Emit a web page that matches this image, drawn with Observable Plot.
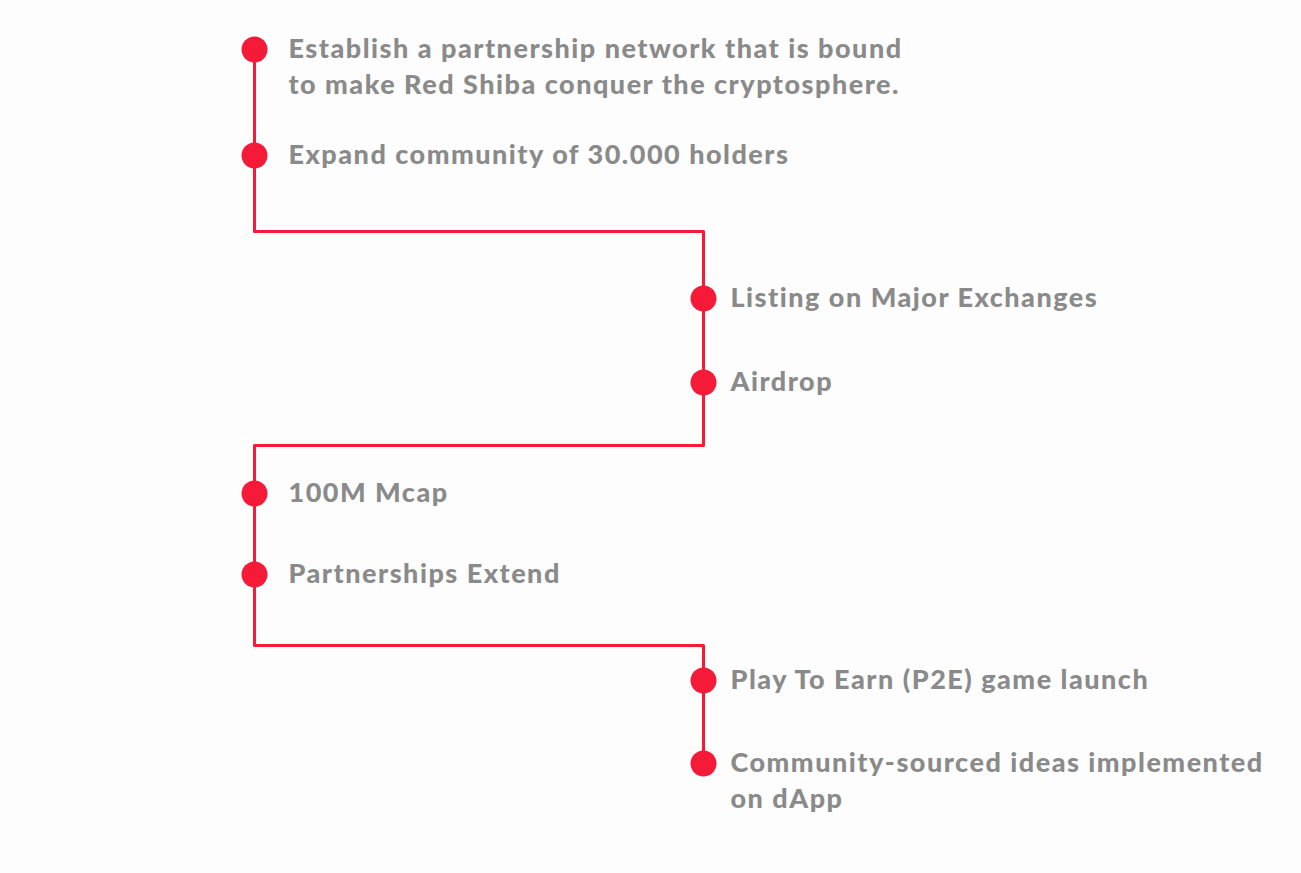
<!DOCTYPE html>
<html><head><meta charset="utf-8">
<script src="https://cdn.jsdelivr.net/npm/d3@7"></script>
<script src="https://cdn.jsdelivr.net/npm/@observablehq/plot@0.6"></script>
<style>body{margin:0;background:#fdfdfd} svg text{letter-spacing:1.5px}</style>
</head><body><div id="chart"></div>
<script>
// milestones: column (0 left, 1 right) and vertical position
const labels = [
  "Establish a partnership network that is bound\nto make Red Shiba conquer the cryptosphere.",
  "Expand community of 30.000 holders",
  "Listing on Major Exchanges",
  "Airdrop",
  "100M Mcap",
  "Partnerships Extend",
  "Play To Earn (P2E) game launch",
  "Community-sourced ideas implemented\non dApp"
];
const columns = [0, 0, 1, 1, 0, 0, 1, 1];
const rows = [49, 155, 298, 382, 493, 574, 680, 763];
// path of the connecting line
const pathCols = [0, 0, 1, 1, 0, 0, 1, 1];
const pathRows = [49, 231, 231, 445, 445, 645, 645, 763];

const red = "#f51a38";
const milestones = labels.map((t, i) => ({t, c: columns[i], r: rows[i]}));
const path = pathCols.map((c, i) => ({c, r: pathRows[i]}));

const textOpts = {
  x: "c", y: "r", text: "t", dy: -16,
  textAnchor: "start", lineAnchor: "top", lineHeight: 1.3,
  fontSize: 27, fontWeight: 900, fill: "#8a8a8a"
};

const p = Plot.plot({
  width: 1301, height: 873,
  margin: 0,
  style: {background: "#fdfdfd", fontFamily: "Lato"},
  x: {domain: [0, 1], range: [254, 703], axis: null},
  y: {domain: [0, 873], range: [0, 873], axis: null},
  marks: [
    Plot.line(path, {x: "c", y: "r", stroke: red, strokeWidth: 3, curve: "linear"}),
    Plot.dot(milestones, {x: "c", y: "r", r: 13, fill: red}),
    Plot.text(milestones.filter(d => d.c === 0), {...textOpts, dx: 34}),
    Plot.text(milestones.filter(d => d.c === 1), {...textOpts, dx: 27})
  ]
});
document.getElementById("chart").append(p);
</script></body></html>
